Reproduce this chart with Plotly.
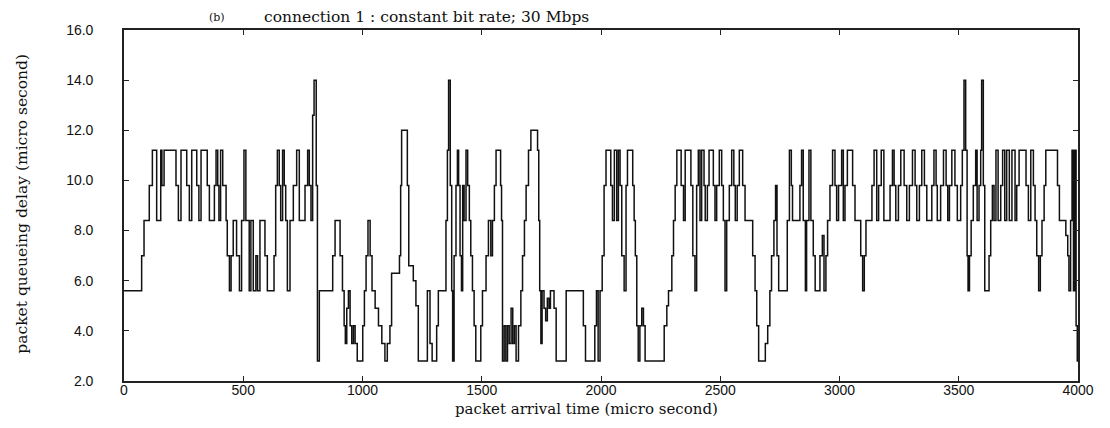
import plotly.graph_objects as go

# packet arrival time (micro second) and packet queueing delay (micro second)
arrival_time = [
    0, 74, 84, 106, 119, 137, 154, 159, 168, 218, 228, 239, 263, 274, 284, 305, 314, 323, 349, 358,
    379, 386, 393, 398, 405, 414, 428, 433, 442, 449, 458, 472, 484, 493, 503, 511, 525, 532, 542, 553,
    560, 570, 591, 601, 629, 636, 643, 651, 657, 665, 672, 678, 685, 696, 710, 724, 735, 759, 770, 777,
    784, 791, 797, 806, 811, 819, 875, 885, 906, 916, 923, 928, 934, 941, 948, 955, 962, 969, 978, 1001,
    1008, 1015, 1023, 1032, 1040, 1053, 1067, 1081, 1094, 1104, 1115, 1122, 1155, 1160, 1164, 1188, 1194, 1213, 1224, 1234,
    1272, 1283, 1292, 1311, 1318, 1350, 1356, 1361, 1368, 1374, 1378, 1384, 1392, 1398, 1403, 1409, 1415, 1420, 1426, 1434,
    1441, 1448, 1454, 1461, 1468, 1475, 1496, 1503, 1518, 1528, 1538, 1545, 1553, 1560, 1579, 1583, 1587, 1594, 1601, 1608,
    1615, 1623, 1630, 1637, 1644, 1654, 1664, 1671, 1679, 1686, 1696, 1706, 1734, 1739, 1743, 1748, 1753, 1761, 1768, 1775,
    1782, 1788, 1803, 1812, 1854, 1926, 1935, 1974, 1981, 1988, 1996, 2005, 2013, 2021, 2041, 2048, 2056, 2066, 2073, 2080,
    2087, 2097, 2105, 2111, 2133, 2139, 2144, 2150, 2156, 2163, 2171, 2178, 2185, 2265, 2276, 2283, 2297, 2304, 2311, 2318,
    2336, 2346, 2353, 2377, 2385, 2394, 2401, 2408, 2415, 2422, 2432, 2437, 2446, 2453, 2471, 2478, 2485, 2496, 2506, 2513,
    2520, 2527, 2538, 2548, 2557, 2563, 2571, 2580, 2594, 2604, 2636, 2646, 2653, 2661, 2689, 2699, 2708, 2715, 2725, 2732,
    2738, 2745, 2781, 2790, 2798, 2803, 2834, 2841, 2848, 2857, 2862, 2872, 2880, 2890, 2898, 2918, 2928, 2935, 2943, 2950,
    2960, 2971, 2981, 2988, 2996, 3009, 3016, 3023, 3033, 3055, 3065, 3089, 3097, 3104, 3111, 3136, 3145, 3156, 3164, 3175,
    3186, 3212, 3222, 3229, 3236, 3247, 3257, 3271, 3282, 3293, 3306, 3317, 3324, 3335, 3345, 3356, 3366, 3387, 3396, 3405,
    3410, 3424, 3436, 3447, 3454, 3461, 3471, 3484, 3494, 3508, 3515, 3522, 3529, 3535, 3539, 3545, 3552, 3561, 3571, 3577,
    3585, 3592, 3596, 3603, 3609, 3627, 3634, 3641, 3648, 3656, 3665, 3676, 3684, 3693, 3701, 3712, 3723, 3736, 3743, 3753,
    3782, 3792, 3802, 3813, 3820, 3827, 3835, 3842, 3849, 3858, 3865, 3914, 3922, 3949, 3957, 3962, 3969, 3975, 3981, 3986,
    3992, 3997, 4000,
]
queueing_delay = [
    5.6, 7.0, 8.4, 9.8, 11.2, 8.4, 11.2, 9.8, 11.2, 9.8, 8.4, 11.2, 9.8, 8.4, 11.2, 9.8, 8.4, 11.2, 9.8, 8.4,
    9.8, 11.2, 9.8, 8.4, 11.2, 9.8, 8.4, 7.0, 5.6, 7.0, 8.4, 7.0, 5.6, 8.4, 11.2, 8.4, 5.6, 8.4, 5.6, 7.0,
    5.6, 8.4, 7.0, 5.6, 7.0, 9.8, 11.2, 9.8, 8.4, 11.2, 9.8, 8.4, 5.6, 8.4, 9.8, 11.2, 8.4, 9.8, 11.2, 9.8,
    8.4, 12.6, 14.0, 9.8, 2.8, 5.6, 7.0, 8.4, 7.0, 5.6, 4.2, 3.5, 4.9, 5.6, 4.2, 3.5, 4.2, 3.5, 2.8, 4.2,
    5.6, 7.0, 8.4, 7.0, 5.6, 4.9, 4.2, 3.5, 2.8, 3.5, 4.2, 6.3, 7.0, 9.8, 12.0, 9.8, 6.6, 6.0, 5.0, 2.8,
    5.6, 3.5, 2.8, 4.2, 5.6, 8.4, 11.2, 14.0, 9.8, 5.6, 2.8, 7.0, 9.8, 11.2, 9.8, 7.0, 5.6, 9.8, 8.4, 11.2,
    9.8, 8.4, 7.0, 5.6, 4.2, 2.8, 4.2, 5.6, 7.0, 8.4, 7.0, 8.4, 9.8, 11.2, 9.8, 8.4, 2.8, 4.2, 2.8, 4.2,
    3.5, 4.9, 3.5, 4.2, 2.8, 4.2, 5.6, 7.0, 8.4, 9.8, 11.2, 12.0, 11.2, 8.4, 5.6, 3.5, 5.6, 4.9, 4.4, 5.3,
    4.9, 5.6, 4.9, 2.8, 5.6, 4.2, 2.8, 4.2, 5.6, 2.8, 5.6, 7.0, 9.8, 11.2, 9.8, 8.4, 11.2, 8.4, 11.2, 9.8,
    7.0, 5.6, 9.8, 11.2, 9.8, 8.4, 7.0, 4.2, 2.8, 4.2, 4.9, 4.2, 2.8, 4.2, 5.0, 5.6, 7.0, 8.4, 9.8, 11.2,
    9.8, 8.4, 11.2, 9.8, 7.0, 5.6, 9.8, 11.2, 8.4, 11.2, 9.8, 8.4, 9.8, 11.2, 9.8, 8.4, 9.8, 11.2, 9.8, 8.4,
    5.6, 8.4, 9.8, 11.2, 9.8, 8.4, 9.8, 11.2, 9.8, 8.4, 7.0, 5.6, 4.2, 2.8, 3.5, 4.2, 5.6, 7.0, 8.4, 9.8,
    7.0, 5.6, 8.4, 11.2, 9.8, 8.4, 9.8, 11.2, 8.4, 5.6, 8.4, 11.2, 8.4, 7.0, 5.6, 7.0, 7.8, 5.6, 7.0, 8.4,
    9.8, 11.2, 9.8, 8.4, 9.8, 11.2, 8.4, 9.8, 11.2, 9.8, 8.4, 7.0, 5.6, 7.0, 8.4, 9.8, 11.2, 8.4, 9.8, 11.2,
    8.4, 9.8, 11.2, 9.8, 8.4, 9.8, 11.2, 9.8, 8.4, 9.8, 11.2, 9.8, 8.4, 9.8, 11.2, 9.8, 8.4, 9.8, 11.2, 9.8,
    8.4, 9.8, 11.2, 9.8, 8.4, 9.8, 11.2, 9.8, 8.4, 9.8, 11.2, 14.0, 11.2, 7.0, 5.6, 7.0, 8.4, 9.8, 11.2, 8.4,
    9.8, 11.2, 14.0, 9.8, 5.6, 7.0, 8.4, 9.8, 8.4, 11.2, 8.4, 9.8, 11.2, 8.4, 11.2, 8.4, 11.2, 8.4, 9.8, 11.2,
    9.8, 8.4, 11.2, 9.8, 8.4, 7.0, 5.6, 7.0, 8.4, 9.8, 11.2, 9.8, 8.4, 7.8, 7.0, 5.6, 8.4, 11.2, 5.6, 11.2,
    4.2, 2.8, 2.8,
]

x_ticks = [0, 500, 1000, 1500, 2000, 2500, 3000, 3500, 4000]
y_ticks = [2.0, 4.0, 6.0, 8.0, 10.0, 12.0, 14.0, 16.0]

title_tag = "(b)"
title_text = "connection 1 : constant bit rate; 30 Mbps"
x_title = "packet arrival time (micro second)"
y_title = "packet queueing delay (micro second)"

fig = go.Figure()
fig.add_trace(go.Scatter(
    x=arrival_time, y=queueing_delay, mode="lines", line_shape="hv",
    line=dict(color="#111111", width=1.5), showlegend=False, hoverinfo="x+y",
))

serif = "DejaVu Serif, Liberation Serif, serif"
sans = "Liberation Sans, Arial, sans-serif"

fig.update_layout(
    width=1110, height=428,
    # the page body has an 8px default margin; margins compensate for it
    margin=dict(l=116, r=40, t=22, b=55),
    paper_bgcolor="white", plot_bgcolor="white",
    xaxis=dict(
        range=[0, 4000], tickvals=x_ticks, ticktext=[str(v) for v in x_ticks],
        ticks="inside", ticklen=5, tickwidth=1.2, tickcolor="#222",
        showline=True, linecolor="#222", linewidth=1.6, mirror="ticks",
        showgrid=False, zeroline=False, ticklabelstandoff=-5,
        tickfont=dict(family=sans, size=14, color="#111"),
    ),
    yaxis=dict(
        range=[2, 16], tickvals=y_ticks, ticktext=[f"{v:.1f}" for v in y_ticks],
        ticks="inside", ticklen=5, tickwidth=1.2, tickcolor="#222",
        showline=True, linecolor="#222", linewidth=1.6, mirror="ticks",
        showgrid=False, zeroline=False, ticklabelstandoff=26,
        tickfont=dict(family=sans, size=14, color="#111"),
    ),
    annotations=[
        dict(text=title_tag, xref="paper", yref="paper", x=0.087, y=1.036,
             xanchor="left", yanchor="middle", showarrow=False,
             font=dict(family=serif, size=11, color="#111")),
        dict(text=title_text, xref="paper", yref="paper", x=0.1447, y=1.036,
             xanchor="left", yanchor="middle", showarrow=False,
             font=dict(family=serif, size=15.5, color="#111")),
        dict(text=x_title, xref="paper", yref="paper", x=0.485, y=-0.081,
             xanchor="center", yanchor="middle", showarrow=False,
             font=dict(family=serif, size=15, color="#111")),
        dict(text=y_title, xref="paper", yref="paper", x=-0.107, y=0.505,
             xanchor="center", yanchor="middle", showarrow=False, textangle=-90,
             font=dict(family=serif, size=15.5, color="#111")),
    ],
)

fig.write_html("out.html")
